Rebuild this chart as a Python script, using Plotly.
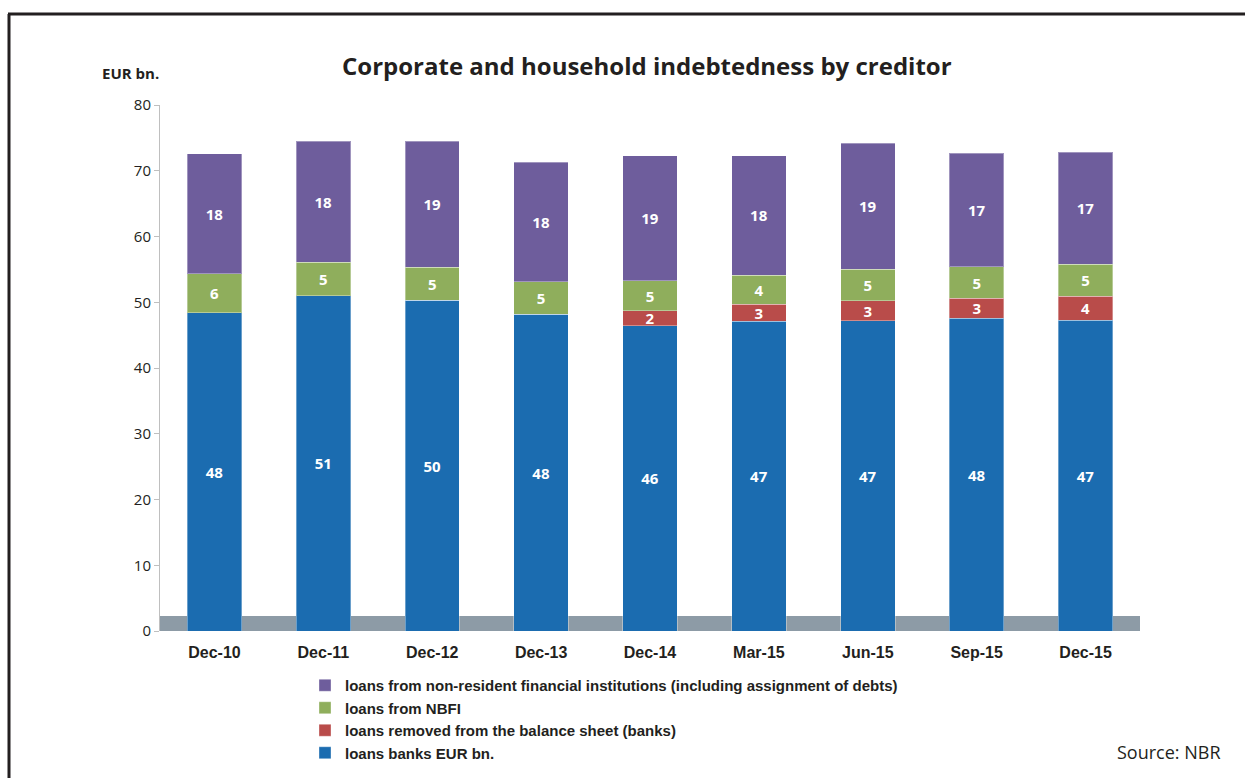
import plotly.graph_objects as go

categories = ["Dec-10", "Dec-11", "Dec-12", "Dec-13", "Dec-14", "Mar-15", "Jun-15", "Sep-15", "Dec-15"]
banks = [48.4, 51.0, 50.3, 48.2, 46.4, 47.1, 47.2, 47.6, 47.3]
removed = [0, 0, 0, 0, 2.3, 2.6, 3.0, 3.0, 3.6]
nbfi = [5.9, 5.1, 5.0, 4.9, 4.6, 4.4, 4.8, 4.8, 4.9]
nonres = [18.3, 18.4, 19.2, 18.2, 19.0, 18.2, 19.2, 17.3, 17.0]

banks_lbl = ["48", "51", "50", "48", "46", "47", "47", "48", "47"]
removed_lbl = ["", "", "", "", "2", "3", "3", "3", "4"]
nbfi_lbl = ["6", "5", "5", "5", "5", "4", "5", "5", "5"]
nonres_lbl = ["18", "18", "19", "18", "19", "18", "19", "17", "17"]

y_ticks = [0, 10, 20, 30, 40, 50, 60, 70, 80]

series = [
    ("loans banks EUR bn.", banks, banks_lbl, "#1b6cb0"),
    ("loans removed from the balance sheet (banks)", removed, removed_lbl, "#b94c4a"),
    ("loans from NBFI", nbfi, nbfi_lbl, "#8fae5c"),
    ("loans from non-resident financial institutions (including assignment of debts)", nonres, nonres_lbl, "#6e5d9c"),
]

fig = go.Figure()
for name, vals, lbls, col in series:
    fig.add_trace(go.Bar(
        x=categories, y=vals, name=name, text=lbls,
        textposition="inside", insidetextanchor="middle", textangle=0,
        constraintext="none",
        textfont=dict(family="Open Sans", size=15, color="white", weight="bold"),
        marker=dict(color=col, line=dict(color="rgba(255,255,255,0.35)", width=1)),
        width=0.5,
    ))

fig.update_layout(
    barmode="stack",
    width=1245, height=778,
    margin=dict(l=160, r=105, t=105, b=147, autoexpand=False),
    paper_bgcolor="white", plot_bgcolor="white",
    showlegend=True,
    legend=dict(
        traceorder="reversed", orientation="v",
        x=(305 - 160) / 980, xanchor="left",
        y=(631 - 669) / 526, yanchor="top",
        font=dict(family="Arial", size=15, color="#231f20", weight="bold"),
        itemwidth=30, tracegroupgap=0, bgcolor="rgba(0,0,0,0)",
    ),
    font=dict(family="Arial", color="#231f20"),
)

fig.update_xaxes(
    showline=False, showgrid=False, ticks="",
    tickfont=dict(family="Arial", size=16, color="#231f20", weight="bold"),
    range=[-0.5, 8.5], ticklabelstandoff=10,
)
fig.update_yaxes(
    range=[0, 80], tickvals=y_ticks, showgrid=False,
    showline=True, linecolor="#bfbfbf", linewidth=1,
    ticks="outside", ticklen=5, tickcolor="#bfbfbf",
    tickfont=dict(family="Open Sans", size=15, color="#231f20"),
    zeroline=False,
)

# floor band
fig.add_shape(type="rect", xref="paper", yref="paper", x0=0, x1=1, y0=0, y1=15 / 526,
              fillcolor="#8d9ba6", line=dict(width=0), layer="below")
# frame lines
fig.add_shape(type="line", xref="paper", yref="paper", x0=(8 - 160) / 980, x1=(1250 - 160) / 980,
              y0=(631 - 14) / 526, y1=(631 - 14) / 526, line=dict(color="#231f20", width=3))
fig.add_shape(type="line", xref="paper", yref="paper", x0=(9 - 160) / 980, x1=(9 - 160) / 980,
              y0=(631 - 14) / 526, y1=(631 - 790) / 526, line=dict(color="#231f20", width=3))

fig.add_annotation(text="<b>Corporate and household indebtedness by creditor</b>",
                   xref="paper", yref="paper", x=(647 - 160) / 980, y=(631 - 65) / 526,
                   xanchor="center", yanchor="middle", showarrow=False,
                   font=dict(family="Open Sans", size=24, color="#231f20"))
fig.add_annotation(text="<b>EUR bn.</b>",
                   xref="paper", yref="paper", x=(100 - 160) / 980, y=(631 - 73) / 526,
                   xanchor="left", yanchor="middle", showarrow=False,
                   font=dict(family="Open Sans", size=15, color="#231f20"))
fig.add_annotation(text="Source: NBR",
                   xref="paper", yref="paper", x=(1223 - 160) / 980, y=(631 - 752) / 526,
                   xanchor="right", yanchor="middle", showarrow=False,
                   font=dict(family="Open Sans", size=18, color="#231f20"))

fig.write_html("out.html")
